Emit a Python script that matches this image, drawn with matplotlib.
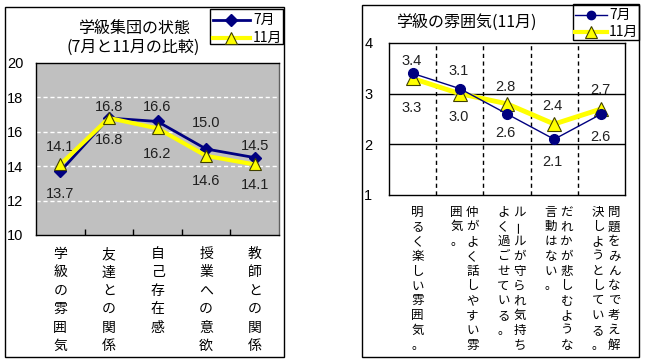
import matplotlib
matplotlib.use("Agg")
import matplotlib.pyplot as plt
from matplotlib.patches import Rectangle
from matplotlib.lines import Line2D
from matplotlib.transforms import blended_transform_factory, offset_copy

plt.rcParams['font.family'] = ['Noto Sans CJK JP', 'DejaVu Sans']

# ---------------- data ----------------
left_title_lines = ["学級集団の状態", "(7月と11月の比較)"]
left_categories = ["学級の雰囲気", "友達との関係", "自己存在感", "授業への意欲", "教師との関係"]
left_july = [13.7, 16.8, 16.6, 15.0, 14.5]
left_nov = [14.1, 16.8, 16.2, 14.6, 14.1]
left_yticks = [10, 12, 14, 16, 18, 20]

right_title = "学級の雰囲気(11月)"
# each category written vertically, columns right-to-left
right_categories = [
    ["明るく楽しい雰囲気。"],
    ["仲がよく話しやすい雰", "囲気。"],
    ["ルールが守られ気持ち", "よく過ごせている。"],
    ["だれかが悲しむような", "言動はない。"],
    ["問題をみんなで考え解", "決しようとしている。"],
]
right_july = [3.4, 3.1, 2.6, 2.1, 2.6]
right_nov = [3.3, 3.0, 2.8, 2.4, 2.7]
right_yticks = [1, 2, 3, 4]
series_names = ["7月", "11月"]

# label offsets (pixels, + = up)
left_july_dy = [-23, 11, 14, 26, 12]
left_nov_dy = [17, -22, -26, -25, -21]
right_july_dy = [12, 18, -19, -23, -23]
right_nov_dy = [-30, -23, 17, 18, 19]

W, H = 646, 364
fig = plt.figure(figsize=(W / 100, H / 100), dpi=100)
fig.patch.set_facecolor("white")

def fx(px):
    return px / W

def fy(py):
    return 1 - py / H

def frame(x0, y0, x1, y1):
    fig.add_artist(Rectangle((fx(x0), fy(y1)), fx(x1 - x0), (y1 - y0) / H,
                             transform=fig.transFigure, fill=False,
                             edgecolor="black", lw=1.0))

NAVY = "#000080"
YEL = "#FFFF00"
NUMFONT = "Liberation Sans"

# ---------------- left chart ----------------
frame(5, 7, 284, 357)
axL = fig.add_axes([fx(36), fy(235), fx(279 - 36), (235 - 63) / H])
axL.set_facecolor("#C0C0C0")
x = list(range(len(left_categories)))
axL.plot(x, left_july, color=NAVY, lw=2, marker="D", ms=6, mfc=NAVY, mec=NAVY, zorder=3)
axL.plot(x, left_nov, color=YEL, lw=3, marker="^", ms=9, mfc=YEL, mec="#404000", mew=0.8, zorder=4)
axL.set_xlim(-0.5, len(x) - 0.5)
axL.set_ylim(10, 20)
axL.set_yticks(left_yticks)
axL.set_yticklabels([str(v) for v in left_yticks], fontsize=10.5, family=NUMFONT)
axL.tick_params(axis="y", length=0, pad=9)
axL.set_xticks(x)
axL.set_xticklabels([])
axL.tick_params(axis="x", which="major", length=0)
axL.set_xticks([i + 0.5 for i in x[:-1]], minor=True)
axL.tick_params(axis="x", which="minor", direction="in", length=4, width=1, color="black")
for v in left_yticks[1:-1]:
    axL.axhline(v, color="white", lw=1, ls=(0, (3, 2)), zorder=1)
for s in axL.spines.values():
    s.set_color("black")
    s.set_linewidth(1)
axL.spines["right"].set_color("#606060")

for xi, v, dy in zip(x, left_july, left_july_dy):
    axL.annotate(f"{v:.1f}", (xi, v), xytext=(0, dy * 0.72), textcoords="offset points",
                 ha="center", va="center", fontsize=10.5, family=NUMFONT, color="#202020")
for xi, v, dy in zip(x, left_nov, left_nov_dy):
    axL.annotate(f"{v:.1f}", (xi, v), xytext=(0, dy * 0.72), textcoords="offset points",
                 ha="center", va="center", fontsize=10.5, family=NUMFONT, color="#202020")

trL = blended_transform_factory(axL.transData, fig.transFigure)
for xi, lab in zip(x, left_categories):
    for k, ch in enumerate(lab):
        fig.text(xi, fy(254 + k * 18.4), ch, transform=trL, ha="center", va="center",
                 fontsize=10)

fig.text(fx(134), fy(28), left_title_lines[0], ha="center", va="center", fontsize=11.5)
fig.text(fx(133), fy(47), left_title_lines[1], ha="center", va="center", fontsize=11.5)

# left legend
frame(210, 9, 283, 44)
fig.add_artist(Line2D([fx(213), fx(250)], [fy(20), fy(20)], color=NAVY, lw=2,
                      transform=fig.transFigure))
fig.add_artist(Line2D([fx(231.5)], [fy(20)], color=NAVY, marker="D", ms=6, lw=0,
                      transform=fig.transFigure))
fig.text(fx(253), fy(20), series_names[0], ha="left", va="center", fontsize=10)
fig.add_artist(Line2D([fx(213), fx(250)], [fy(38), fy(38)], color=YEL, lw=3,
                      transform=fig.transFigure))
fig.add_artist(Line2D([fx(231.5)], [fy(38)], color=YEL, marker="^", ms=8, mec="#404000",
                      mew=0.8, lw=0, transform=fig.transFigure))
fig.text(fx(253), fy(38), series_names[1], ha="left", va="center", fontsize=10)

# ---------------- right chart ----------------
frame(362, 5, 639, 357)
axR = fig.add_axes([fx(389), fy(195), fx(625 - 389), (195 - 43) / H])
axR.set_facecolor("white")
xr = list(range(len(right_categories)))
axR.plot(xr, right_nov, color=YEL, lw=3.5, marker="^", ms=10, mfc=YEL, mec="#404000", mew=0.8, zorder=3)
axR.plot(xr, right_july, color=NAVY, lw=1, marker="o", ms=7, mfc=NAVY, mec=NAVY, zorder=4)
axR.set_xlim(-0.5, len(xr) - 0.5)
axR.set_ylim(1, 4)
axR.set_yticks(right_yticks)
axR.set_yticklabels([str(v) for v in right_yticks], fontsize=10.5, family=NUMFONT)
axR.tick_params(axis="y", length=0, pad=12)
axR.set_xticks([])
for v in right_yticks[1:-1]:
    axR.axhline(v, color="black", lw=1, zorder=1)
for i in xr[:-1]:
    axR.axvline(i + 0.5, color="black", lw=1, ls=(0, (3, 2.5)), zorder=1)
for s in axR.spines.values():
    s.set_color("black")
    s.set_linewidth(1)

for xi, v, dy in zip(xr, right_july, right_july_dy):
    axR.annotate(f"{v:.1f}", (xi, v), xytext=(-1, dy * 0.72), textcoords="offset points",
                 ha="center", va="center", fontsize=10.5, family=NUMFONT, color="#202020")
for xi, v, dy in zip(xr, right_nov, right_nov_dy):
    axR.annotate(f"{v:.1f}", (xi, v), xytext=(-1, dy * 0.72), textcoords="offset points",
                 ha="center", va="center", fontsize=10.5, family=NUMFONT, color="#202020")

trR = blended_transform_factory(axR.transData, fig.transFigure)
for xi, cols in zip(xr, right_categories):
    if len(cols) == 1:
        offs = [5]
    else:
        offs = [12.5, -3.5]
    for col, off in zip(cols, offs):
        t = offset_copy(trR, fig=fig, x=off * 0.72, y=0, units="points")
        for k, ch in enumerate(col):
            rot = 90 if ch == "ー" else 0
            fig.text(xi, fy(212 + k * 14.8), ch, transform=t, ha="center", va="center",
                     fontsize=9, rotation=rot)

fig.text(fx(466), fy(22), right_title, ha="center", va="center", fontsize=11.5)

# right legend
frame(573, 4, 639, 40)
fig.add_artist(Line2D([fx(575), fx(607)], [fy(15), fy(15)], color=NAVY, lw=1,
                      transform=fig.transFigure))
fig.add_artist(Line2D([fx(591)], [fy(15)], color=NAVY, marker="o", ms=6, lw=0,
                      transform=fig.transFigure))
fig.text(fx(609), fy(15), series_names[0], ha="left", va="center", fontsize=10)
fig.add_artist(Line2D([fx(575), fx(607)], [fy(32), fy(32)], color=YEL, lw=3,
                      transform=fig.transFigure))
fig.add_artist(Line2D([fx(591)], [fy(32)], color=YEL, marker="^", ms=8, mec="#404000",
                      mew=0.8, lw=0, transform=fig.transFigure))
fig.text(fx(609), fy(32), series_names[1], ha="left", va="center", fontsize=10)

fig.savefig("out.png", dpi=100, facecolor="white")
